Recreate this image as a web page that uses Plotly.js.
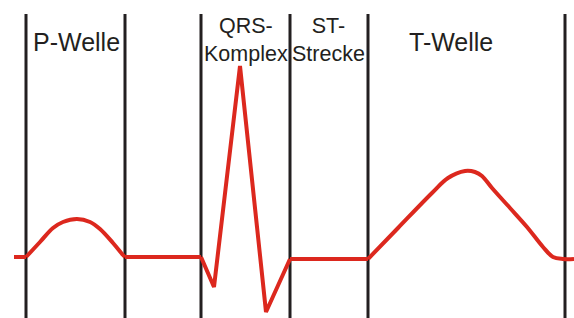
<!DOCTYPE html>
<html>
<head>
<meta charset="utf-8">
<script src="https://cdn.plot.ly/plotly-3.0.1.min.js"></script>
<style>html,body{margin:0;padding:0;background:#fff;}#chart{width:574px;height:318px;}</style>
</head>
<body>
<div id="chart"></div>
<script>
// Time axis (arbitrary units) and amplitude (baseline = 0, up positive)
const dividerX = [26, 125, 201, 290, 368, 565];
const dividerTop = 244;
const dividerBottom = -60;

const baseLeftX = [14, 26];
const baseLeftY = [1, 1];

const pWaveX = [26, 40, 53, 63, 77, 90, 100, 113, 123, 125];
const pWaveY = [1, 16, 30, 36, 39, 36, 29, 15, 3, 1];

const prX = [125, 201];
const prY = [1, 1];

const qrsX = [201, 214, 240, 266, 290];
const qrsY = [1, -29, 192, -54, -1];

const stX = [290, 368];
const stY = [-1, -1];

const tWaveX = [368, 398, 432, 448, 465, 475, 482, 492, 510, 527, 543, 553, 563, 574];
const tWaveY = [-1, 30, 65, 80, 87, 86, 82, 70, 50, 31, 11, 1, -1, -1];

const labels = ["P-Welle", "QRS-<br>Komplex", "ST-<br>Strecke", "T-Welle"];
const labelX = [76, 246, 328.5, 451];
const labelY = [216, 218, 218, 216];
const labelSize = [25, 21.5, 21.5, 25];

const red = "#dc281e";
const ink = "#231f20";

const vx = [], vy = [];
dividerX.forEach(x => { vx.push(x, x, null); vy.push(dividerTop, dividerBottom, null); });

const traces = [
  {x: vx, y: vy, mode: "lines", line: {color: ink, width: 3}, hoverinfo: "skip"},
  {x: baseLeftX, y: baseLeftY, mode: "lines", line: {color: red, width: 4}},
  {x: pWaveX, y: pWaveY, mode: "lines", line: {color: red, width: 4, shape: "spline", smoothing: 1}},
  {x: prX, y: prY, mode: "lines", line: {color: red, width: 4}},
  {x: qrsX, y: qrsY, mode: "lines", line: {color: red, width: 4}},
  {x: stX, y: stY, mode: "lines", line: {color: red, width: 4}},
  {x: tWaveX, y: tWaveY, mode: "lines", line: {color: red, width: 4, shape: "spline", smoothing: 1}}
];

const annotations = labels.map((t, i) => ({
  x: labelX[i], y: labelY[i], xref: "x", yref: "y", text: t, showarrow: false,
  xanchor: "center", yanchor: "middle",
  font: {family: "Liberation Sans, Arial, sans-serif", size: labelSize[i], color: ink}
}));

const layout = {
  width: 574, height: 318,
  margin: {l: 0, r: 0, t: 0, b: 0},
  paper_bgcolor: "#fff", plot_bgcolor: "#fff",
  showlegend: false,
  xaxis: {range: [0, 574], visible: false, fixedrange: true},
  yaxis: {range: [-60, 258], visible: false, fixedrange: true},
  annotations: annotations
};

Plotly.newPlot("chart", traces, layout, {staticPlot: true, displayModeBar: false});
</script>
</body>
</html>
